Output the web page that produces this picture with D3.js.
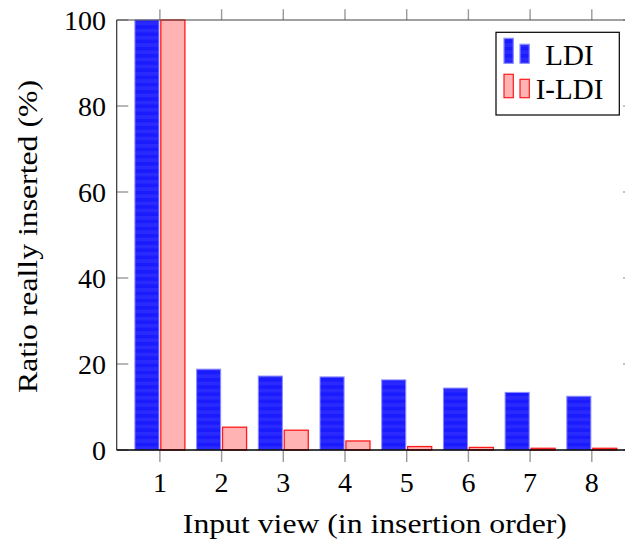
<!DOCTYPE html>
<html><head><meta charset="utf-8">
<script src="https://cdn.jsdelivr.net/npm/d3@7"></script>
<style>
html,body{margin:0;padding:0;background:#fff;}
svg{display:block;}
text{font-family:"Liberation Serif","Times New Roman",Times,serif;fill:#000;}
</style></head>
<body><svg id="chart" width="625" height="541"></svg>
<script>
const categories = [1, 2, 3, 4, 5, 6, 7, 8];
const ldiValues = [100, 18.8, 17.2, 17.0, 16.3, 14.4, 13.4, 12.5];
const ildiValues = [100, 5.3, 4.6, 2.1, 0.8, 0.6, 0.4, 0.4];
const yTicks = [0, 20, 40, 60, 80, 100];
const seriesNames = ["LDI", "I-LDI"];

const svg = d3.select("#chart");
const L = 116.7, R = 635, T = 20, B = 450;
const x = d3.scaleLinear().domain([0.3, 8.7]).range([L, R]);
const y = d3.scaleLinear().domain([0, 100]).range([B, T]);
const step = x(2) - x(1);
const bw = 0.39 * step, off = 0.21 * step;

const defs = svg.append("defs");
const pat = defs.append("pattern").attr("id", "bluestripe")
  .attr("patternUnits", "userSpaceOnUse").attr("width", 8).attr("height", 7.2)
  .attr("y", B);
pat.append("rect").attr("width", 8).attr("height", 7.2).attr("fill", "#1b1bff");
pat.append("rect").attr("y", 3.6).attr("width", 8).attr("height", 3.6).attr("fill", "#2a2aff");

// bars
const g = svg.append("g");
g.selectAll("rect.ldi").data(categories).join("rect").attr("class", "ldi")
  .attr("x", (d) => x(d) - off - bw / 2)
  .attr("y", (d, i) => y(ldiValues[i]))
  .attr("width", bw)
  .attr("height", (d, i) => B - y(ldiValues[i]))
  .attr("fill", "url(#bluestripe)")
  .attr("stroke", "#8c8cff").attr("stroke-width", 1);
g.selectAll("rect.ildi").data(categories).join("rect").attr("class", "ildi")
  .attr("x", (d) => x(d) + off - bw / 2)
  .attr("y", (d, i) => y(ildiValues[i]))
  .attr("width", bw)
  .attr("height", (d, i) => B - y(ildiValues[i]))
  .attr("fill", "#ffb3b3")
  .attr("stroke", "#ff1a1a").attr("stroke-width", 1.3);

// y ticks (inward left and right)
const axg = svg.append("g");
axg.selectAll("line.yl").data(yTicks).join("line")
  .attr("x1", L).attr("x2", L + 11.6)
  .attr("y1", (d) => y(d)).attr("y2", (d) => y(d))
  .attr("stroke", "#888").attr("stroke-width", 1.2);
axg.selectAll("line.yr").data(yTicks).join("line").attr("class","yr")
  .attr("x1", R - 12).attr("x2", R)
  .attr("y1", (d) => y(d)).attr("y2", (d) => y(d))
  .attr("stroke", "#888").attr("stroke-width", 1.2);
// x ticks (outward bottom and top)
axg.selectAll("line.xb").data(categories).join("line").attr("class","xb")
  .attr("x1", (d) => x(d)).attr("x2", (d) => x(d))
  .attr("y1", B).attr("y2", B + 12)
  .attr("stroke", "#999").attr("stroke-width", 1.4);
axg.selectAll("line.xt").data(categories).join("line").attr("class","xt")
  .attr("x1", (d) => x(d)).attr("x2", (d) => x(d))
  .attr("y1", T).attr("y2", T - 10.7)
  .attr("stroke", "#999").attr("stroke-width", 1.4);

// frame
axg.append("line").attr("x1", L).attr("x2", R).attr("y1", T).attr("y2", T).attr("stroke", "#444").attr("stroke-width", 1.2);
axg.append("line").attr("x1", L).attr("x2", L).attr("y1", T).attr("y2", B).attr("stroke", "#333").attr("stroke-width", 1.2);
axg.append("line").attr("x1", R).attr("x2", R).attr("y1", T).attr("y2", B).attr("stroke", "#333").attr("stroke-width", 1.2);
axg.append("line").attr("x1", L).attr("x2", R).attr("y1", B).attr("y2", B).attr("stroke", "#000").attr("stroke-width", 1.3);

// tick labels
axg.selectAll("text.yt").data(yTicks).join("text").attr("class", "yt")
  .attr("x", 106).attr("y", (d) => y(d) + 9.5)
  .attr("text-anchor", "end").attr("font-size", 28)
  .text((d) => d);
axg.selectAll("text.xt").data(categories).join("text").attr("class", "xt")
  .attr("x", (d) => x(d)).attr("y", 491.7)
  .attr("text-anchor", "middle").attr("font-size", 28)
  .text((d) => d);

// axis titles
svg.append("text").attr("x", (L + R) / 2 - 1).attr("y", 532.7)
  .attr("text-anchor", "middle").attr("font-size", 28)
  .attr("textLength", 384).attr("lengthAdjust", "spacingAndGlyphs")
  .text("Input view (in insertion order)");
svg.append("text").attr("transform", "translate(36.5,236.5) rotate(-90)")
  .attr("text-anchor", "middle").attr("font-size", 28)
  .attr("textLength", 313).attr("lengthAdjust", "spacingAndGlyphs")
  .text("Ratio really inserted (%)");

// legend
const lg = svg.append("g");
lg.append("rect").attr("x", 496).attr("y", 32.3).attr("width", 123.3).attr("height", 82.7)
  .attr("fill", "#fff").attr("stroke", "#000").attr("stroke-width", 1.2);
const icon = [
  {fill: "url(#bluestripe)", stroke: "#8c8cff", y1: 38.3, y2: 44.3, b: 63.3},
  {fill: "#ffb3b3", stroke: "#ff1a1a", y1: 74.3, y2: 79.3, b: 97.7}
];
icon.forEach((ic, i) => {
  lg.append("rect").attr("x", 504).attr("y", ic.y1).attr("width", 9.3).attr("height", ic.b - ic.y1)
    .attr("fill", ic.fill).attr("stroke", ic.stroke).attr("stroke-width", 1.2);
  lg.append("rect").attr("x", 520).attr("y", ic.y2).attr("width", 9.3).attr("height", ic.b - ic.y2)
    .attr("fill", ic.fill).attr("stroke", ic.stroke).attr("stroke-width", 1.2);
  lg.append("text").attr("x", 569.5).attr("y", i === 0 ? 65 : 99)
    .attr("text-anchor", "middle").attr("font-size", 29)
    .text(seriesNames[i]);
});
</script></body></html>
